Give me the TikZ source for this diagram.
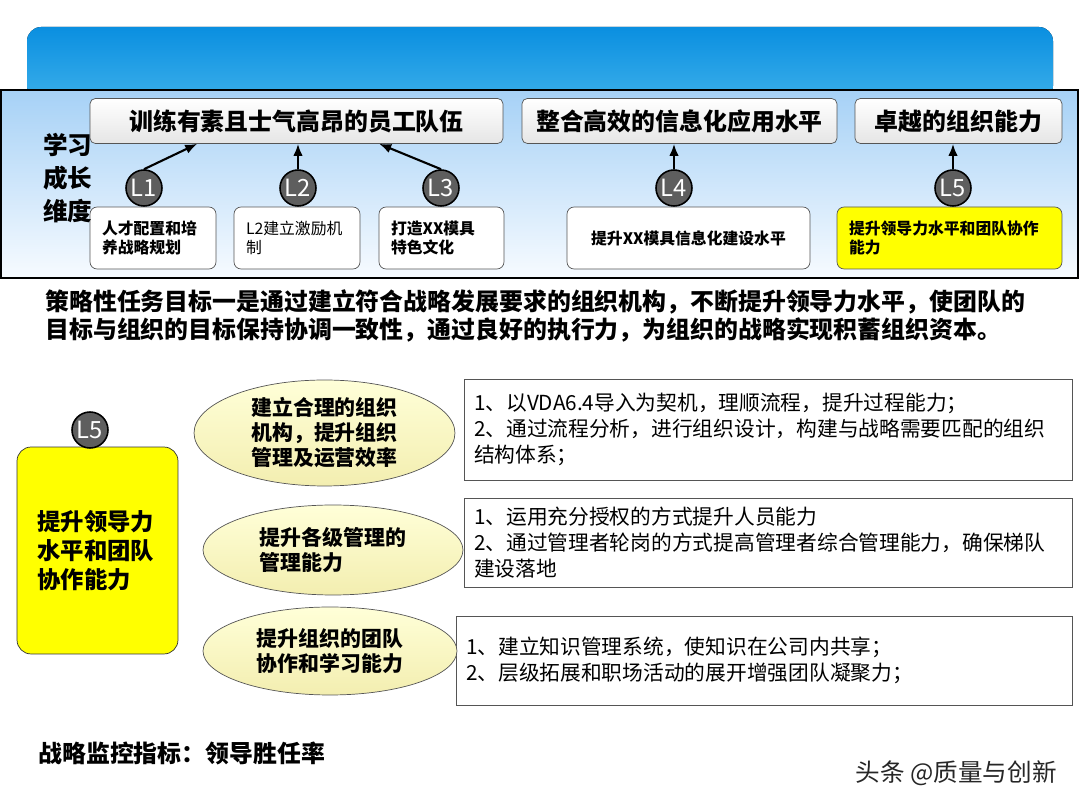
\documentclass[tikz,border=0pt]{standalone}
\usepackage{fontspec}
\setmainfont{Noto Sans CJK SC}
\usepackage{xcolor}
\usetikzlibrary{arrows.meta,positioning,shapes.geometric,calc}
\definecolor{bannertop}{HTML}{0A8FE0}
\definecolor{bannerbot}{HTML}{3AAEEA}
\definecolor{paneltop}{HTML}{A6D1F6}
\definecolor{panelbot}{HTML}{F7FBFF}
\definecolor{circgray}{HTML}{5E5E5E}
\definecolor{edgegray}{HTML}{555555}
\definecolor{ovaltop}{HTML}{FFFFD8}
\definecolor{ovalbot}{HTML}{F3EEB0}
\definecolor{markyellow}{HTML}{FFFF00}

\begin{document}
\begin{tikzpicture}[x=0.02cm, y=-0.02cm, >={Latex[length=2.4mm,width=1.9mm]},
  goalbox/.style={draw=edgegray, rounded corners=3pt, top color=white, bottom color=black!10, minimum height=0.9cm, inner sep=0pt, font=\bfseries\fontsize{13.6}{16}\selectfont},
  lcirc/.style={circle, draw=black, line width=0.9pt, fill=circgray, minimum size=0.72cm, inner sep=0pt, text=white, font=\fontsize{13.5}{13.5}\selectfont},
  taskbox/.style={draw=edgegray, rounded corners=4pt, fill=white, minimum height=1.24cm, inner xsep=0.24cm, align=left, font=\bfseries\fontsize{9}{11}\selectfont},
  oval/.style={ellipse, draw=edgegray, top color=ovaltop, bottom color=ovalbot, inner sep=0pt, align=left, font=\bfseries\fontsize{11.9}{14.2}\selectfont},
  notebox/.style={draw=edgegray, fill=white, inner xsep=0.2cm, align=left, font=\fontsize{11.8}{14.7}\selectfont},
  linkarrow/.style={->, line width=1.2pt}]
  \useasboundingbox (0,0) rectangle (1080,810);

  % banner and panel
  \fill[top color=bannertop, bottom color=bannerbot, rounded corners=8pt] (27,100) rectangle (1053,27);
  \path[draw=black, line width=1.2pt, top color=paneltop, bottom color=panelbot] (1,90) rectangle (1078,278);

  % goals
  \node[goalbox, minimum width=8.26cm] (g1) at (296.5,121) {训练有素且士气高昂的员工队伍};
  \node[goalbox, minimum width=6.3cm] (g2) at (679.5,121) {整合高效的信息化应用水平};
  \node[goalbox, minimum width=4.14cm] (g3) at (958.5,121) {卓越的组织能力};

  % tasks
  \node[taskbox, text width=2.04cm] (t1) at (153,238) {人才配置和培\\养战略规划};
  \node[taskbox, text width=2.04cm, font=\fontsize{9}{11}\selectfont] (t2) at (297,238) {L2建立激励机\\制};
  \node[taskbox, text width=2.02cm] (t3) at (441.5,238) {打造XX模具\\特色文化};
  \node[taskbox, minimum width=4.86cm, align=center] (t4) at (688.5,238) {提升XX模具信息化建设水平};
  \node[taskbox, text width=4.02cm, fill=markyellow] (t5) at (949.5,238) {提升领导力水平和团队协作\\能力};

  \node[lcirc] (l1) at (144,188) {L1};
  \node[lcirc] (l2) at (298,188) {L2};
  \node[lcirc] (l3) at (441,188) {L3};
  \node[lcirc] (l4) at (674,188) {L4};
  \node[lcirc] (l5) at (953,188) {L5};

  \draw[linkarrow] (l1.north) -- ($(g1.south west)!0.26!(g1.south east)$);
  \draw[linkarrow] (l2.north) -- (l2.north |- g1.south);
  \draw[linkarrow] (l3.north) -- ($(g1.south west)!0.70!(g1.south east)$);
  \draw[linkarrow] (l4.north) -- (l4.north |- g2.south);
  \draw[linkarrow] (l5.north) -- (l5.north |- g3.south);

  \node[align=left, inner sep=0pt, font=\bfseries\fontsize{14}{18.7}\selectfont] (dim) at (68,178) {学习\\成长\\维度};

  % aim
  \node[anchor=west, align=left, inner sep=0pt, font=\bfseries\fontsize{13.6}{15.9}\selectfont] (aim) at (45,316) {策略性任务目标一是通过建立符合战略发展要求的组织机构，不断提升领导力水平，使团队的\\目标与组织的目标保持协调一致性，通过良好的执行力，为组织的战略实现积蓄组织资本。};

  % L5 detail
  \node[draw=black!80, rounded corners=8pt, fill=markyellow, minimum width=3.22cm, minimum height=4.14cm, text width=2.4cm, inner xsep=0.41cm, align=left, font=\bfseries\fontsize{13.3}{16.4}\selectfont] (lead) at (97.5,550.5) {提升领导力\\水平和团队\\协作能力};
  \node[lcirc] (l5b) at (90,430) {L5};

  \node[notebox, minimum height=2.02cm, text width=11.76cm] (n1) at (768,429.5) {1、以VDA6.4导入为契机，理顺流程，提升过程能力；\\2、通过流程分析，进行组织设计，构建与战略需要匹配的组织\\结构体系；};
  \node[notebox, minimum height=1.78cm, text width=11.76cm] (n2) at (768,542.5) {1、运用充分授权的方式提升人员能力\\2、通过管理者轮岗的方式提高管理者综合管理能力，确保梯队\\建设落地};
  \node[notebox, minimum height=1.78cm, text width=11.92cm] (n3) at (764,660.5) {1、建立知识管理系统，使知识在公司内共享；\\2、层级拓展和职场活动的展开增强团队凝聚力；};

  \node[oval, minimum width=5.22cm, minimum height=2.12cm] (o1) at (324.5,433) {建立合理的组织\\机构，提升组织\\管理及运营效率};
  \node[oval, minimum width=5.2cm, minimum height=1.8cm] (o2) at (333,550) {提升各级管理的\\管理能力};
  \node[oval, minimum width=5.08cm, minimum height=1.76cm] (o3) at (330,651) {提升组织的团队\\协作和学习能力};

  % footer
  \node[anchor=west, inner sep=0pt, font=\bfseries\fontsize{13.6}{16}\selectfont] (kpi) at (38,753) {战略监控指标：领导胜任率};
  \node[anchor=east, inner sep=0pt, text=black!85, font=\fontsize{14}{16}\selectfont] (mark) at (1057,773) {头条 @质量与创新};
\end{tikzpicture}
\end{document}
